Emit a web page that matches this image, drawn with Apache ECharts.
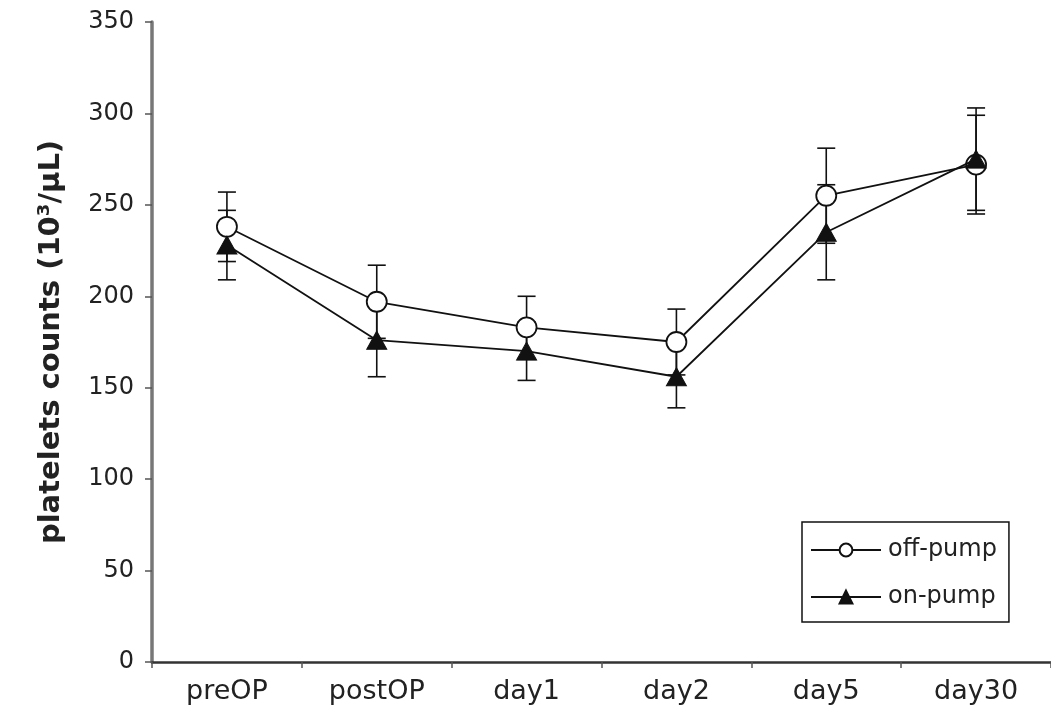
<!DOCTYPE html>
<html>
<head>
<meta charset="utf-8">
<script src="https://cdn.jsdelivr.net/npm/echarts@6/dist/echarts.min.js"></script>
<style>
  html, body { margin: 0; padding: 0; background: #fff; }
  #chart { width: 1051px; height: 715px; }
</style>
</head>
<body>
<div id="chart"></div>
<script>
// Time points and platelet counts (mean ± SD, 10^3/µL)
const categories = ['preOP', 'postOP', 'day1', 'day2', 'day5', 'day30'];
const offPumpMean = [238, 197, 183, 175, 255, 272];
const offPumpSD   = [19, 20, 17, 18, 26, 27];
const onPumpMean  = [228, 176, 170, 156, 235, 275];
const onPumpSD    = [19, 20, 16, 17, 26, 28];
const yTicks = [0, 50, 100, 150, 200, 250, 300, 350];

const FONT = 'DejaVu Sans';
const TEXT = '#222';

function errorData(mean, sd) {
  return mean.map((m, i) => [i, m - sd[i], m + sd[i]]);
}

// Vertical whisker with caps at both ends
function renderError(params, api) {
  const x = api.value(0);
  const lo = api.coord([x, api.value(1)]);
  const hi = api.coord([x, api.value(2)]);
  const half = 9;
  const style = { stroke: '#111', lineWidth: 1.6 };
  return {
    type: 'group',
    children: [
      { type: 'line', shape: { x1: hi[0], y1: hi[1], x2: lo[0], y2: lo[1] }, style },
      { type: 'line', shape: { x1: hi[0] - half, y1: hi[1], x2: hi[0] + half, y2: hi[1] }, style },
      { type: 'line', shape: { x1: lo[0] - half, y1: lo[1], x2: lo[0] + half, y2: lo[1] }, style }
    ]
  };
}

const chart = echarts.init(document.getElementById('chart'));
chart.setOption({
  animation: false,
  backgroundColor: '#fff',
  grid: { left: 152, top: 22, width: 906, height: 640 },
  legend: {
    orient: 'vertical',
    left: 802,
    top: 522,
    padding: [16, 12, 13, 8],
    itemWidth: 70,
    itemHeight: 16,
    itemGap: 23,
    borderColor: '#111',
    borderWidth: 1.5,
    borderRadius: 0,
    textStyle: { fontFamily: FONT, fontSize: 24, color: TEXT, lineHeight: 24, padding: [0, 0, 0, 2] },
    data: ['off-pump', 'on-pump']
  },
  xAxis: {
    type: 'category',
    data: categories,
    boundaryGap: true,
    axisLine: { lineStyle: { color: '#333', width: 2.5 } },
    axisTick: { show: true, inside: false, length: 6, lineStyle: { color: '#555', width: 1.5 } },
    axisLabel: { fontFamily: FONT, fontSize: 27, color: TEXT, margin: 16 },
    splitLine: { show: false }
  },
  yAxis: {
    type: 'value',
    min: yTicks[0],
    max: yTicks[yTicks.length - 1],
    interval: 50,
    name: 'platelets counts (10³/µL)',
    nameLocation: 'middle',
    nameRotate: 90,
    nameGap: 86,
    nameTextStyle: { fontFamily: FONT, fontSize: 29, fontWeight: 'bold', color: TEXT },
    axisLine: { show: true, lineStyle: { color: '#777', width: 3.5 } },
    axisTick: { show: true, inside: false, length: 7, lineStyle: { color: '#555', width: 1.5 } },
    axisLabel: { fontFamily: FONT, fontSize: 24, color: TEXT, margin: 18 },
    splitLine: { show: false }
  },
  series: [
    {
      type: 'custom',
      name: 'off-pump-sd',
      renderItem: renderError,
      data: errorData(offPumpMean, offPumpSD),
      encode: { x: 0, y: [1, 2] },
      z: 1,
      silent: true
    },
    {
      type: 'custom',
      name: 'on-pump-sd',
      renderItem: renderError,
      data: errorData(onPumpMean, onPumpSD),
      encode: { x: 0, y: [1, 2] },
      z: 1,
      silent: true
    },
    {
      type: 'line',
      name: 'off-pump',
      data: offPumpMean,
      symbol: 'circle',
      symbolSize: 20,
      lineStyle: { color: '#111', width: 1.8 },
      itemStyle: { color: '#fff', borderColor: '#111', borderWidth: 1.8 },
      z: 3
    },
    {
      type: 'line',
      name: 'on-pump',
      data: onPumpMean,
      symbol: 'triangle',
      symbolSize: [20, 18],
      lineStyle: { color: '#111', width: 1.8 },
      itemStyle: { color: '#111', borderColor: '#111', borderWidth: 1 },
      z: 4
    }
  ]
});
</script>
</body>
</html>
